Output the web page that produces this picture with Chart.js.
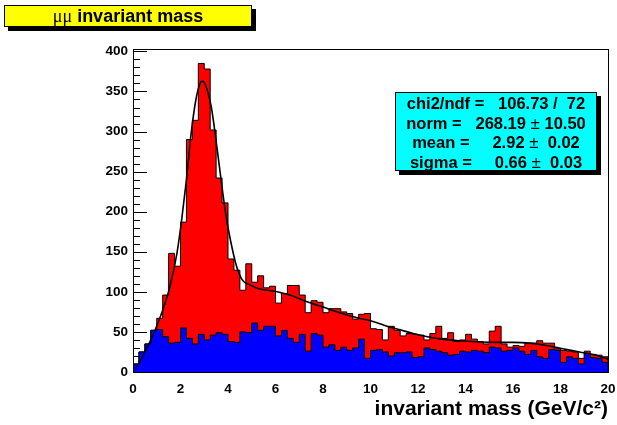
<!DOCTYPE html>
<html>
<head>
<meta charset="utf-8">
<script src="https://cdn.jsdelivr.net/npm/chart.js"></script>
<style>
  html, body { margin: 0; padding: 0; background: #fff; }
  #wrap { position: relative; width: 617px; height: 425px; overflow: hidden;
          font-family: 'Liberation Sans', Arial, Helvetica, sans-serif; color: #000; }
  #plot { position: absolute; left: 0; top: 0; width: 617px; height: 425px; }
  .pave { position: absolute; border: 1px solid #000; box-shadow: 4px 4px 0 #000; box-sizing: border-box; }
  #title { left: 4px; top: 5px; width: 248px; height: 22px; background: #ffff00;
           font-weight: bold; font-size: 18px; line-height: 20px; text-align: center; white-space: pre; }
  .mu { font-family: 'Liberation Serif', 'Times New Roman', serif; font-weight: normal; }
  #stats { left: 395px; top: 92px; width: 202px; height: 79px; background: #00ffff;
           font-weight: bold; font-size: 16.5px; line-height: 19.5px; text-align: center;
           padding-top: 1px; white-space: pre; }
  .pm { font-weight: normal; font-size: 17px; }
</style>
</head>
<body>
<div id="wrap">
  <canvas id="plot" width="617" height="425"></canvas>
  <div id="title" class="pave"><span class="mu">μμ</span> invariant mass</div>
  <div id="stats" class="pave"></div>
</div>
<script>
// Dimuon invariant mass spectrum, 80 bins from 0 to 20 GeV/c^2
const massMin = 0;
const massMax = 20;

// all selected pairs (red)
const totalCounts = [
  10, 25, 35, 52, 67, 96, 148, 132, 187, 290,
  314, 385, 378, 302, 242, 211, 141, 127, 102, 135,
  112, 120, 105, 107, 86, 98, 108, 108, 96, 74,
  89, 87, 74, 79, 79, 75, 73, 66, 72, 73,
  54, 53, 40, 57, 52, 45, 48, 47, 46, 40,
  48, 57, 42, 49, 38, 40, 47, 41, 38, 35,
  51, 57, 35, 31, 33, 32, 36, 36, 39, 36,
  36, 29, 27, 26, 25, 17, 26, 22, 21, 19
];

// combinatorial background pairs (blue)
const bkgCounts = [
  10, 25, 35, 52, 53, 44, 36, 37, 55, 42,
  35, 47, 40, 46, 49, 47, 38, 37, 50, 49,
  61, 52, 57, 57, 45, 52, 42, 37, 47, 26,
  48, 46, 31, 34, 27, 31, 27, 30, 41, 17,
  27, 28, 25, 20, 24, 24, 25, 18, 19, 30,
  28, 26, 24, 21, 22, 26, 25, 27, 26, 24,
  31, 30, 26, 27, 30, 26, 22, 27, 19, 17,
  28, 27, 12, 19, 17, 10, 23, 18, 17, 12
];

// fitted function sampled along the mass axis
const fitMass = [0.1, 0.5, 0.9, 1.25, 1.55, 1.85, 2.05, 2.25, 2.45, 2.65, 2.8, 2.92, 3.05, 3.3, 3.5,
                 3.7, 3.9, 4.1, 4.35, 4.6, 4.9, 5.3, 5.9, 6.6, 7.3, 8.0, 8.7, 9.4, 10.0, 10.6,
                 11.2, 11.8, 12.4, 13.0, 13.8, 14.6, 15.4, 16.0, 16.7, 17.4, 18.1, 18.8, 19.5, 20.0];
const fitValue = [4, 25, 50, 77, 106, 148, 190, 240, 298, 340, 358, 363, 358, 330, 288,
                  242, 198, 165, 133, 115, 109, 104, 101, 96, 88, 81, 74, 68, 64, 58,
                  53, 48, 44, 41, 39, 37.5, 37, 37, 36, 33, 29, 25, 21, 16];

// axis labels
const massTicks = [0, 2, 4, 6, 8, 10, 12, 14, 16, 18, 20];
const countTicks = [0, 50, 100, 150, 200, 250, 300, 350, 400];
const massMinorStep = 0.4;
const countMinorStep = 10;
const countMax = 403;

// fit summary
const fitChi2 = '106.73';
const fitNdf = '72';
const fitNorm = ['268.19', '10.50'];
const fitMean = ['2.92', '0.02'];
const fitSigma = ['0.66', '0.03'];

document.getElementById('stats').innerHTML =
  'chi2/ndf =   ' + fitChi2 + ' /  ' + fitNdf + '\n' +
  'norm =   ' + fitNorm[0] + ' <span class="pm">±</span> ' + fitNorm[1] + '\n' +
  'mean =     ' + fitMean[0] + ' <span class="pm">±</span>  ' + fitMean[1] + '\n' +
  'sigma =     ' + fitSigma[0] + ' <span class="pm">±</span>  ' + fitSigma[1];

const nBins = totalCounts.length;
const binWidth = (massMax - massMin) / nBins;

// outline points for a step histogram, closed down to zero at both ends
function histPoints(counts) {
  const pts = [{ x: massMin, y: 0 }];
  counts.forEach((c, i) => pts.push({ x: massMin + i * binWidth, y: c }));
  pts.push({ x: massMax, y: counts[counts.length - 1] });
  pts.push({ x: massMax, y: 0 });
  return pts;
}

const fitPoints = fitMass.map((m, i) => ({ x: m, y: fitValue[i] }));

const FONT = "'Liberation Sans', Arial, Helvetica, sans-serif";

// inward tick marks (under the histograms) and the frame (on top)
const frameAxes = {
  id: 'frameAxes',
  beforeDatasetsDraw(chart) {
    const { ctx, chartArea: a, scales: { x, y } } = chart;
    ctx.save();
    ctx.strokeStyle = '#000';
    ctx.lineWidth = 1;
    ctx.beginPath();
    for (let v = 0; v <= countMax + 1e-9; v += countMinorStep) {
      const py = Math.round(y.getPixelForValue(v)) + 0.5;
      const major = countTicks.includes(Math.round(v));
      ctx.moveTo(a.left, py);
      ctx.lineTo(a.left + (major ? 14 : 7), py);
    }
    for (let i = 0; massMin + i * massMinorStep <= massMax + 1e-9; i++) {
      const v = massMin + i * massMinorStep;
      const px = Math.round(x.getPixelForValue(v)) + 0.5;
      const major = i % 5 === 0;
      ctx.moveTo(px, a.bottom);
      ctx.lineTo(px, a.bottom - (major ? 10 : 5));
    }
    ctx.stroke();
    ctx.restore();
  },
  afterDatasetsDraw(chart) {
    const { ctx, chartArea: a } = chart;
    ctx.save();
    ctx.strokeStyle = '#000';
    ctx.lineWidth = 1;
    ctx.strokeRect(Math.round(a.left) + 0.5, Math.round(a.top) + 0.5,
                   Math.round(a.right - a.left), Math.round(a.bottom - a.top));
    ctx.restore();
  }
};

new Chart(document.getElementById('plot'), {
  type: 'line',
  data: {
    datasets: [
      {
        label: 'fit',
        data: fitPoints,
        borderColor: '#000',
        borderWidth: 1.6,
        pointRadius: 0,
        cubicInterpolationMode: 'monotone',
        fill: false,
        order: 0
      },
      {
        label: 'background',
        data: histPoints(bkgCounts),
        stepped: 'before',
        borderColor: '#000',
        borderWidth: 1,
        backgroundColor: '#0000ff',
        fill: 'origin',
        pointRadius: 0,
        order: 1
      },
      {
        label: 'all pairs',
        data: histPoints(totalCounts),
        stepped: 'before',
        borderColor: '#000',
        borderWidth: 1,
        backgroundColor: '#ff0000',
        fill: 'origin',
        pointRadius: 0,
        order: 2
      }
    ]
  },
  options: {
    responsive: false,
    devicePixelRatio: 1,
    animation: false,
    layout: { padding: { left: 0, top: 49, right: 9, bottom: 0 } },
    plugins: {
      legend: { display: false },
      tooltip: { enabled: false },
      title: { display: false }
    },
    scales: {
      x: {
        type: 'linear',
        min: massMin,
        max: massMax,
        grid: { display: false, drawTicks: false },
        border: { display: false },
        afterBuildTicks: (s) => { s.ticks = massTicks.map(v => ({ value: v })); },
        afterFit: (s) => { s.height = 53; s.paddingLeft = 0; s.paddingRight = 0; },
        ticks: {
          autoSkip: false,
          maxRotation: 0,
          padding: 9,
          color: '#000',
          font: { family: FONT, size: 13.5, weight: 'bold' }
        },
        title: {
          display: true,
          text: 'invariant mass (GeV/c²)',
          align: 'end',
          color: '#000',
          padding: { top: 0, bottom: 3 },
          font: { family: FONT, size: 21, weight: 'bold' }
        }
      },
      y: {
        type: 'linear',
        min: 0,
        max: countMax,
        grid: { display: false, drawTicks: false },
        border: { display: false },
        afterBuildTicks: (s) => { s.ticks = countTicks.map(v => ({ value: v })); },
        afterFit: (s) => { s.width = 133; s.paddingTop = 0; s.paddingBottom = 0; },
        ticks: {
          padding: 5,
          color: '#000',
          font: { family: FONT, size: 13.5, weight: 'bold' }
        }
      }
    }
  },
  plugins: [frameAxes]
});
</script>
</body>
</html>
